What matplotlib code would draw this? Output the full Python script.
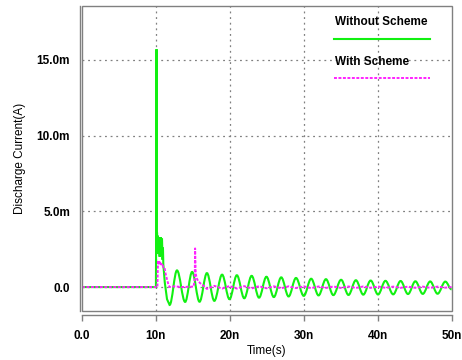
import matplotlib
matplotlib.use("Agg")
import matplotlib.pyplot as plt
from matplotlib.path import Path
from matplotlib.patches import PathPatch, Rectangle
from matplotlib.lines import Line2D

# time in ns, current in mA
# Without scheme: flat, big spike at 10n, ringing
t_spike = [0.0, 10.0, 10.05, 10.08, 10.1, 10.12, 10.15, 10.18, 10.22, 10.28, 10.33, 10.4,
           10.45, 10.5, 10.55, 10.62, 10.68, 10.75, 10.82, 10.9, 10.95, 11.0, 11.2, 11.5, 11.85]
i_spike = [0.0, 0.0, 6.4, 15.7, 6.0, 2.2, 3.6, 2.5, 3.4, 2.2, 3.3, 2.4,
           3.3, 2.0, 3.2, 2.3, 3.3, 2.1, 3.2, 1.8, 2.6, 1.5, 0.3, -0.8, -1.18]

# ringing after the spike: successive troughs / peaks
t_ring = [11.85, 12.85, 13.95, 14.9, 15.9, 16.9, 17.9, 18.95, 19.95, 20.95, 21.95, 22.95,
          23.95, 24.95, 25.95, 26.95, 27.95, 28.95, 30.0, 31.0, 32.0, 33.0, 34.0, 35.05,
          36.05, 37.05, 38.05, 39.05, 40.05, 41.05, 42.1, 43.1, 44.1, 45.1, 46.1, 47.1,
          48.1, 49.15, 50.0]
i_ring = [-1.18, 1.1, -0.98, 1.0, -0.97, 0.92, -0.91, 0.82, -0.8, 0.78, -0.74, 0.74,
          -0.7, 0.68, -0.66, 0.64, -0.62, 0.6, -0.58, 0.55, -0.55, 0.52, -0.53, 0.48,
          -0.52, 0.45, -0.5, 0.43, -0.49, 0.41, -0.48, 0.4, -0.46, 0.38, -0.45, 0.37,
          -0.44, 0.36, -0.15]

# With scheme
t_scheme = [0.0, 10.2, 10.25, 10.3, 10.4, 10.5, 10.6, 10.7, 10.8, 10.9, 11.0, 11.15,
            11.3, 11.5, 11.7, 11.85, 12.5, 13.5, 14.5, 15.1, 15.25, 15.3, 15.38, 15.5,
            15.7, 16.0, 16.4, 16.9, 17.9, 18.95, 19.95, 20.95, 21.95, 22.95, 23.95, 24.95,
            25.95, 26.95, 27.95, 28.95, 30.0, 31.0, 32.0, 33.0, 34.0, 35.05, 36.05, 37.05,
            38.05, 39.05, 40.05, 41.05, 42.1, 43.1, 44.1, 45.1, 46.1, 47.1, 48.1, 49.15, 50.0]
i_scheme = [0.0, 0.0, 1.2, 1.75, 1.5, 1.65, 1.45, 1.55, 1.4, 1.45, 1.3, 1.3,
            0.9, 0.5, 0.15, 0.0, 0.05, 0.0, 0.02, 0.03, 0.5, 2.55, 0.9, 0.6,
            0.4, 0.25, 0.1, -0.12, 0.08, -0.1, 0.07, -0.1, 0.06, -0.09, 0.06, -0.08,
            0.05, -0.08, 0.05, -0.07, 0.05, -0.07, 0.04, -0.06, 0.04, -0.06, 0.04, -0.06,
            0.04, -0.05, 0.04, -0.05, 0.03, -0.05, 0.03, -0.05, 0.03, -0.05, 0.03, -0.04, 0.0]

x_ticks = [0, 10, 20, 30, 40, 50]
x_labels = ["0.0", "10n", "20n", "30n", "40n", "50n"]
y_ticks = [0, 5, 10, 15]
y_labels = ["0.0", "5.0m", "10.0m", "15.0m"]

GREEN = "#11f011"
MAGENTA = "#ff22ff"
GREY = "#808080"

plt.rcParams["font.family"] = ["Liberation Sans", "DejaVu Sans"]

fig = plt.figure(figsize=(4.62, 3.6), dpi=100)
ax = fig.add_axes([0.1775, 0.1361, 0.8, 0.8472])
ax.set_xlim(0, 50)
ax.set_ylim(-1.58, 18.55)

# grid
for x in x_ticks[1:-1]:
    ax.axvline(x, color=GREY, lw=0.9, ls=(0, (1.5, 3)), zorder=0)
for y in y_ticks:
    ax.axhline(y, color=GREY, lw=0.9, ls=(0, (1.5, 3)), zorder=0)

# without scheme: straight pieces for the spike, smooth curves for the ringing
verts = list(zip(t_spike, i_spike))
codes = [Path.MOVETO] + [Path.LINETO] * (len(verts) - 1)
k = 0.36
for n in range(1, len(t_ring)):
    t0, v0 = t_ring[n - 1], i_ring[n - 1]
    t1, v1 = t_ring[n], i_ring[n]
    dt = t1 - t0
    verts += [(t0 + k * dt, v0), (t1 - k * dt, v1), (t1, v1)]
    codes += [Path.CURVE4] * 3
ax.add_patch(PathPatch(Path(verts, codes), fill=False, edgecolor=GREEN, lw=1.5, zorder=3))

ax.plot(t_scheme, i_scheme, color=MAGENTA, lw=1.4, ls=(0, (1.5, 0.8)), zorder=4)

# frame
for s in ["top", "right"]:
    ax.spines[s].set_visible(False)
ax.spines["bottom"].set_position(("outward", 3))
ax.spines["left"].set_position(("outward", 1.5))
for s in ["bottom", "left"]:
    ax.spines[s].set_color(GREY)
    ax.spines[s].set_linewidth(1.0)
ax.add_patch(Rectangle((0, 0), 1, 1, transform=ax.transAxes, fill=False,
                       edgecolor=GREY, lw=1.0, clip_on=False, zorder=5))

ax.set_xticks(x_ticks)
ax.set_xticklabels(x_labels, fontsize=8.5, fontweight="bold")
ax.set_yticks(y_ticks)
ax.set_yticklabels(y_labels, fontsize=8.5, fontweight="bold")
ax.tick_params(axis="x", direction="out", length=4.5, width=1.0, color=GREY, pad=6)
ax.tick_params(axis="y", length=0, pad=7)

ax.set_xlabel("Time(s)", fontsize=8.5, labelpad=2)
ax.set_ylabel("Discharge Current(A)", fontsize=8.5, labelpad=8)

# legend drawn by hand: label above its line
ax.text(0.685, 0.948, "Without Scheme", transform=ax.transAxes, fontsize=8.5,
        fontweight="bold", va="center", ha="left")
ax.add_line(Line2D([0.681, 0.941], [0.892, 0.892], transform=ax.transAxes,
                   color=GREEN, lw=1.5))
ax.text(0.685, 0.817, "With Scheme", transform=ax.transAxes, fontsize=8.5,
        fontweight="bold", va="center", ha="left")
ax.add_line(Line2D([0.681, 0.941], [0.765, 0.765], transform=ax.transAxes,
                   color=MAGENTA, lw=1.4, ls=(0, (1.5, 0.8))))

fig.savefig("out.png", dpi=100)
